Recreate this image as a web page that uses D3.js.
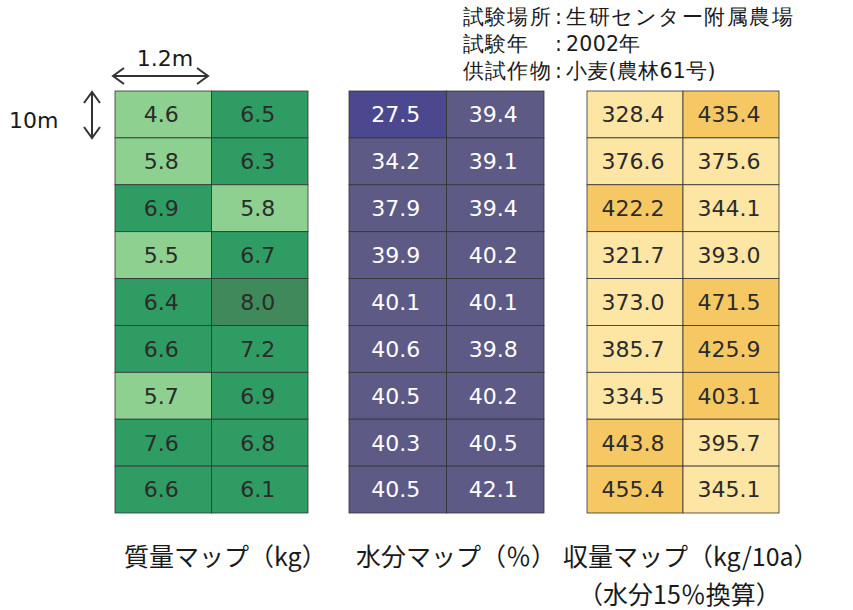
<!DOCTYPE html>
<html>
<head>
<meta charset="utf-8">
<script src="https://cdn.jsdelivr.net/npm/d3@7"></script>
<style>
  body { margin: 0; background: #fff; }
  svg { display: block; }
  text { font-family: "DejaVu Sans", sans-serif; }
  .jp { font-family: "Noto Sans CJK JP", sans-serif; }
</style>
</head>
<body>
<div id="chart"></div>
<script>
// data: 9 plots (rows) x 2 strips (columns)
const rows = ['1', '2', '3', '4', '5', '6', '7', '8', '9'];
const cols = ['A', 'B'];

const massA = [4.6, 5.8, 6.9, 5.5, 6.4, 6.6, 5.7, 7.6, 6.6];
const massB = [6.5, 6.3, 5.8, 6.7, 8.0, 7.2, 6.9, 6.8, 6.1];

const moistA = [27.5, 34.2, 37.9, 39.9, 40.1, 40.6, 40.5, 40.3, 40.5];
const moistB = [39.4, 39.1, 39.4, 40.2, 40.1, 39.8, 40.2, 40.5, 42.1];

const yieldA = [328.4, 376.6, 422.2, 321.7, 373.0, 385.7, 334.5, 443.8, 455.4];
const yieldB = [435.4, 375.6, 344.1, 393.0, 471.5, 425.9, 403.1, 395.7, 345.1];

const infoLabels = ['試験場所', '試験年', '供試作物'];
const infoValues = ['生研センター附属農場', '2002年', '小麦(農林61号)'];

const width = 853, height = 610;
const svg = d3.select('#chart').append('svg')
  .attr('width', width)
  .attr('height', height);

const y = d3.scaleBand().domain(rows).range([91, 513]);

const panels = [
  {
    a: massA, b: massB, x0: 115, x1: 308, textColor: '#2b2b2b',
    color: d3.scaleThreshold().domain([6.0, 8.0]).range(['#8dd090', '#2f9c63', '#40895a']),
    title: ['質量マップ（kg）'], tx: [124]
  },
  {
    a: moistA, b: moistB, x0: 349, x1: 544, textColor: '#ffffff',
    color: d3.scaleThreshold().domain([30]).range(['#4c4890', '#5d5a86']),
    title: ['水分マップ（％）'], tx: [356]
  },
  {
    a: yieldA, b: yieldB, x0: 587, x1: 779, textColor: '#2b2b2b',
    color: d3.scaleThreshold().domain([400]).range(['#fde5a4', '#f6c863']),
    title: ['収量マップ（kg/10a）', '（水分15％換算）'], tx: [563, 578]
  }
];

const fmt = d3.format('.1f');

panels.forEach(p => {
  const x = d3.scaleBand().domain(cols).range([p.x0, p.x1]);
  const cells = [];
  rows.forEach((r, i) => {
    cells.push({ row: r, col: 'A', v: p.a[i] });
    cells.push({ row: r, col: 'B', v: p.b[i] });
  });

  const g = svg.append('g');
  g.selectAll('rect')
    .data(cells)
    .join('rect')
    .attr('x', d => x(d.col))
    .attr('y', d => y(d.row))
    .attr('width', x.bandwidth())
    .attr('height', y.bandwidth())
    .attr('fill', d => p.color(d.v))
    .attr('stroke', '#333')
    .attr('stroke-width', 0.8);

  g.selectAll('text')
    .data(cells)
    .join('text')
    .attr('x', d => x(d.col) + x.bandwidth() / 2 - 2)
    .attr('y', d => y(d.row) + y.bandwidth() / 2)
    .attr('dy', '0.36em')
    .attr('text-anchor', 'middle')
    .attr('font-size', 22)
    .attr('fill', p.textColor)
    .text(d => fmt(d.v));

  // 下のタイトル
  p.title.forEach((t, i) => {
    svg.append('text')
      .attr('class', 'jp')
      .attr('x', p.tx[i])
      .attr('y', 566 + i * 38)
      .attr('font-size', 25)
      .attr('fill', '#1a1a1a')
      .text(t);
  });
});

// 右上の試験情報
const info = svg.append('g')
  .attr('class', 'jp')
  .attr('font-size', 20.5)
  .attr('fill', '#1a1a1a');

info.selectAll('.lab')
  .data(infoLabels)
  .join('text')
  .attr('class', 'lab')
  .attr('x', 463)
  .attr('y', (d, i) => 24 + i * 27)
  .attr('letter-spacing', 1.2)
  .text(d => d);

info.selectAll('.colon')
  .data(infoLabels)
  .join('text')
  .attr('class', 'colon')
  .attr('x', 555)
  .attr('y', (d, i) => 24 + i * 27)
  .text(':');

info.selectAll('.val')
  .data(infoValues)
  .join('text')
  .attr('class', 'val')
  .attr('x', 566)
  .attr('y', (d, i) => 24 + i * 27)
  .attr('letter-spacing', (d, i) => i === 0 ? 1.5 : 0.3)
  .text(d => d);

// スケール矢印
const arrow = svg.append('g')
  .attr('fill', 'none')
  .attr('stroke', '#333')
  .attr('stroke-width', 2);

arrow.append('path').attr('d', 'M113,76 H208 M124,68 L113,76 L124,84 M197,68 L208,76 L197,84');
arrow.append('path').attr('d', 'M92,92 V138 M84,103 L92,92 L100,103 M84,127 L92,138 L100,127');

svg.append('text')
  .attr('x', 165).attr('y', 66)
  .attr('text-anchor', 'middle')
  .attr('font-size', 22)
  .attr('fill', '#1a1a1a')
  .text('1.2m');

svg.append('text')
  .attr('x', 9).attr('y', 128)
  .attr('font-size', 22)
  .attr('fill', '#1a1a1a')
  .text('10m');
</script>
</body>
</html>
